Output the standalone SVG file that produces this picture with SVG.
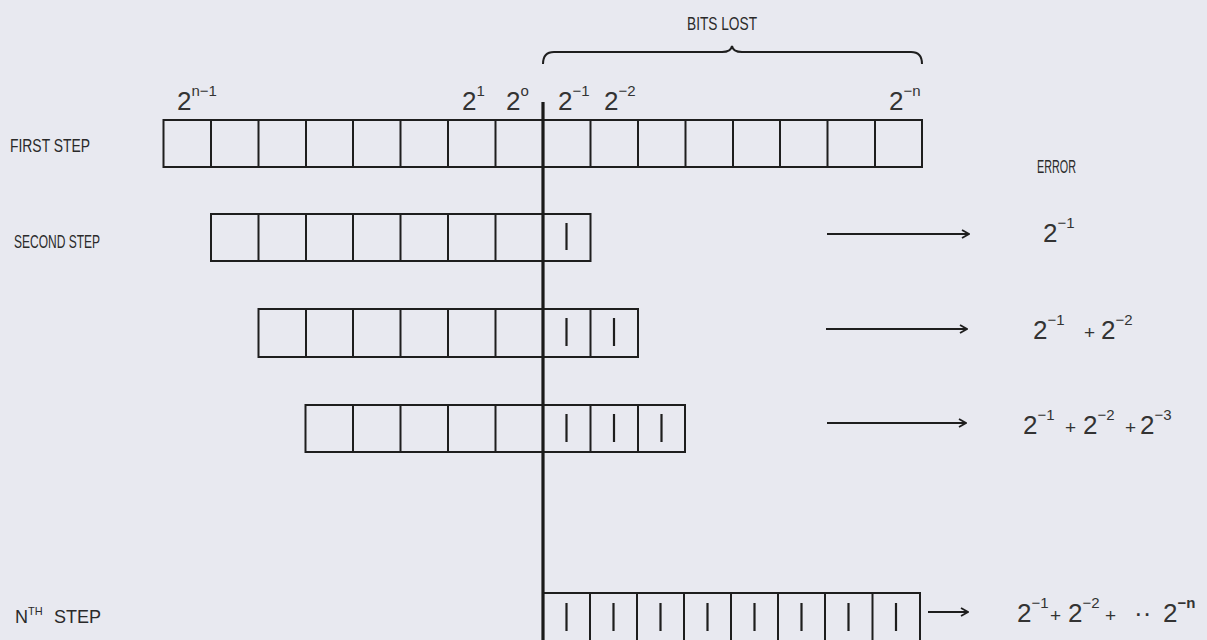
<svg xmlns="http://www.w3.org/2000/svg" width="1207" height="640" viewBox="0 0 1207 640">
<defs>
<style>
.cell{fill:none;stroke:#1e1e1e;stroke-width:2}
.mark{stroke:#1e1e1e;stroke-width:2.2}
.lbl{font-family:"Liberation Sans",Arial,sans-serif;fill:#2a2a2a}
.num{font-family:"Liberation Sans",Arial,sans-serif;fill:#333;font-size:26px}
.sup{font-size:15px}
.plus{font-size:19px}
.conn{stroke:#1e1e1e;stroke-width:2;fill:none}
</style>
<marker id="ah" viewBox="0 0 10 10" refX="9" refY="5" markerWidth="10" markerHeight="10" markerUnits="userSpaceOnUse" orient="auto">
<path d="M2,1 L9,5 L2,9" fill="none" stroke="#1e1e1e" stroke-width="1.8"/>
</marker>
</defs>
<rect width="1207" height="640" fill="#e8e9f0"/>

<g id="title">
<text class="lbl" x="687" y="30" font-size="18" textLength="70" lengthAdjust="spacingAndGlyphs">BITS LOST</text>
<path class="conn" d="M543,64 Q543,52 554,52 L722,52 Q731,52 732,46 Q733,52 742,52 L911,52 Q922,52 922,64"/>
</g>

<g id="bit-labels" class="num">
<text x="177" y="110">2<tspan class="sup" dy="-14">n−1</tspan></text>
<text x="462" y="110">2<tspan class="sup" dy="-14">1</tspan></text>
<text x="506" y="110">2<tspan class="sup" dy="-14">o</tspan></text>
<text x="558" y="110">2<tspan class="sup" dy="-14">−1</tspan></text>
<text x="604" y="110">2<tspan class="sup" dy="-14">−2</tspan></text>
<text x="889" y="110">2<tspan class="sup" dy="-14">−n</tspan></text>
</g>

<g id="step-labels">
<text class="lbl" x="10" y="152" font-size="18" textLength="80" lengthAdjust="spacingAndGlyphs">FIRST STEP</text>
<text class="lbl" x="14" y="248" font-size="18" textLength="86" lengthAdjust="spacingAndGlyphs">SECOND STEP</text>
<text class="lbl" x="15" y="623" font-size="18">N<tspan font-size="11" dy="-8">TH</tspan><tspan dy="8" x="54">STEP</tspan></text>
<text class="lbl" x="1037" y="173" font-size="18" textLength="39" lengthAdjust="spacingAndGlyphs">ERROR</text>
</g>

<g id="row1">
<rect class="cell" x="163.5" y="120" width="758.5" height="47"/>
<path class="cell" d="M211,120V167M258.5,120V167M306,120V167M353,120V167M400.5,120V167M448,120V167M495.5,120V167M590.5,120V167M638,120V167M685.5,120V167M733,120V167M780,120V167M827.5,120V167M875,120V167"/>
</g>

<g id="row2">
<rect class="cell" x="211" y="214" width="379.5" height="47"/>
<path class="cell" d="M258.5,214V261M306,214V261M353,214V261M400.5,214V261M448,214V261M495.5,214V261"/>
<path class="mark" d="M566.5,223V250"/>
</g>

<g id="row3">
<rect class="cell" x="258.5" y="309" width="379.5" height="48"/>
<path class="cell" d="M306,309V357M353,309V357M400.5,309V357M448,309V357M495.5,309V357M590.5,309V357"/>
<path class="mark" d="M566.5,318V346M614,318V346"/>
</g>

<g id="row4">
<rect class="cell" x="305.5" y="405" width="379.5" height="47"/>
<path class="cell" d="M353,405V452M400.5,405V452M448,405V452M495.5,405V452M590.5,405V452M638,405V452"/>
<path class="mark" d="M566.5,414V442M614,414V442M661.5,414V442"/>
</g>

<g id="row5">
<rect class="cell" x="543" y="593" width="377" height="70"/>
<path class="cell" d="M590,593V640M637,593V640M684,593V640M731,593V640M778,593V640M825,593V640M872.5,593V640"/>
<path class="mark" d="M566.5,603V631M613.5,603V631M660.5,603V631M707.5,603V631M754.5,603V631M801.5,603V631M848.5,603V631M896,603V631"/>
</g>

<g id="connectors">
<path d="M543,102V640" stroke="#1a1a1a" stroke-width="3.2" fill="none"/>
<path class="conn" d="M827,234H969" marker-end="url(#ah)"/>
<path class="conn" d="M826,329H967" marker-end="url(#ah)"/>
<path class="conn" d="M827,423H966" marker-end="url(#ah)"/>
<path class="conn" d="M928,612H968" marker-end="url(#ah)"/>
</g>

<g id="errors" class="num">
<text x="1043" y="242">2<tspan class="sup" dy="-14">−1</tspan></text>
<text x="1033" y="339">2<tspan class="sup" dy="-14">−1</tspan><tspan class="plus" x="1084" dy="14">+</tspan><tspan x="1101">2</tspan><tspan class="sup" dy="-14">−2</tspan></text>
<text x="1023" y="434">2<tspan class="sup" dy="-14">−1</tspan><tspan class="plus" x="1065" dy="14">+</tspan><tspan x="1083">2</tspan><tspan class="sup" dy="-14">−2</tspan><tspan class="plus" x="1125" dy="14">+</tspan><tspan x="1140">2</tspan><tspan class="sup" dy="-14">−3</tspan></text>
<text x="1017" y="622">2<tspan class="sup" dy="-14">−1</tspan><tspan class="plus" x="1050" dy="14">+</tspan><tspan x="1068">2</tspan><tspan class="sup" dy="-14">−2</tspan><tspan class="plus" x="1105" dy="14">+</tspan><tspan x="1134">··</tspan><tspan x="1163">2</tspan><tspan class="sup" dy="-14" font-weight="bold">−n</tspan></text>
</g>
</svg>
